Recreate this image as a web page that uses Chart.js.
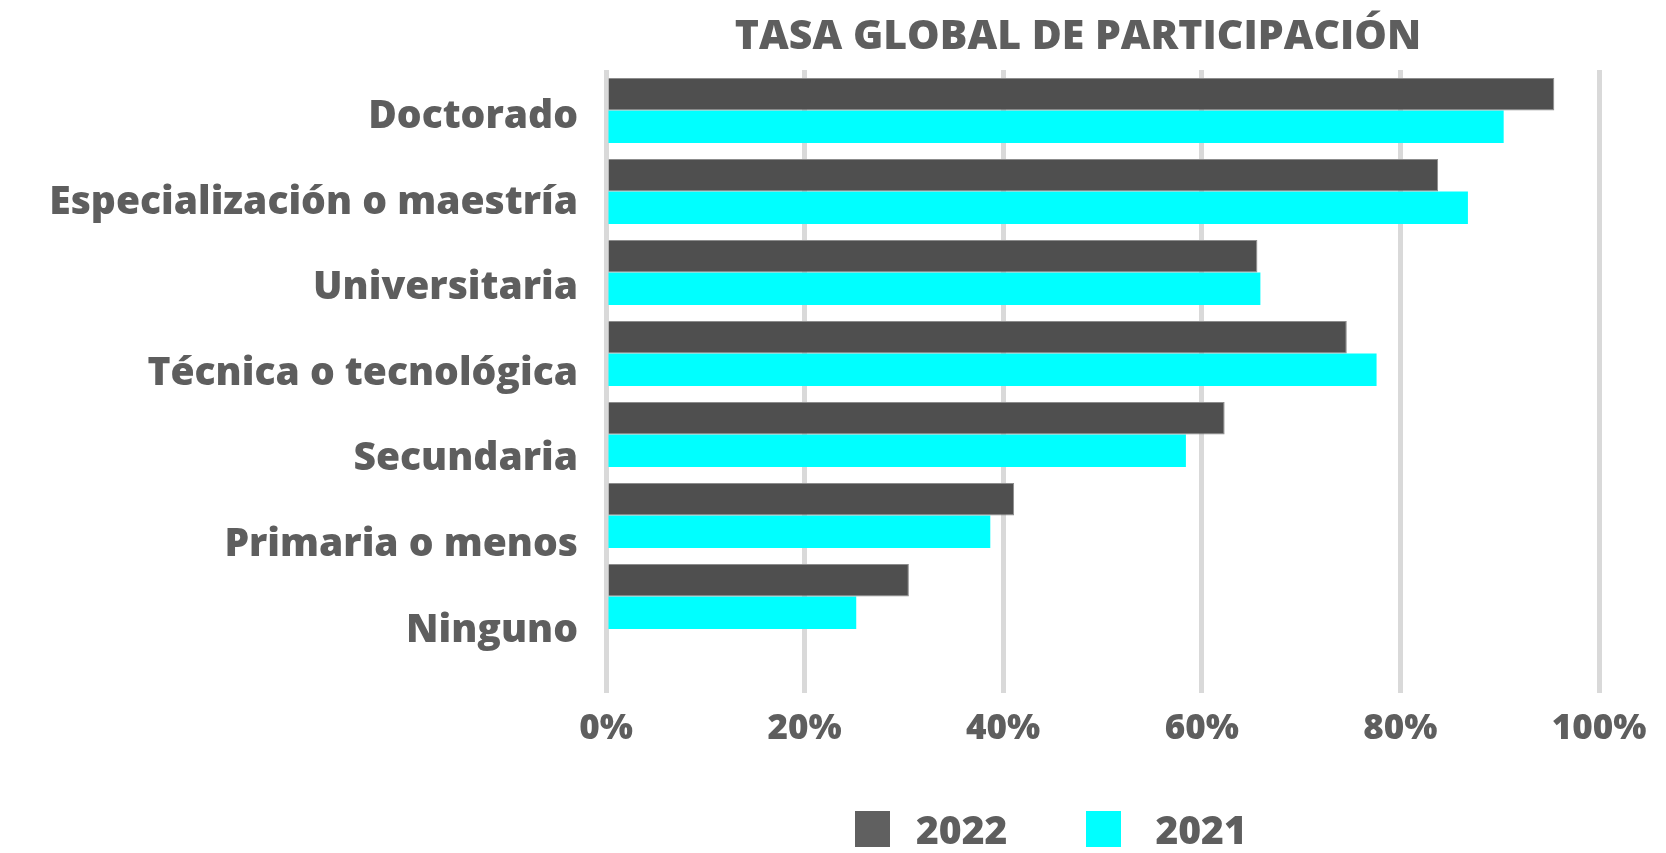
<!DOCTYPE html>
<html lang="es">
<head>
<meta charset="utf-8">
<script src="https://cdn.jsdelivr.net/npm/chart.js@4.4.0/dist/chart.umd.min.js"></script>
<title>Tasa global de participación</title>
<style>
    body { margin: 0; background: #fff; }
    #wrap { position: relative; width: 1666px; height: 853px; }
    #title {
        position: absolute; left: 1078px; top: 13px; transform: translateX(-50%);
        white-space: nowrap; line-height: 41px;
        font-family: 'Open Sans', sans-serif; font-weight: 800; font-size: 41px; color: #5e5e5e;
    }
    #legend {
        position: absolute; left: 855px; top: 811px;
        display: flex; align-items: center; line-height: 36px;
        font-family: 'Open Sans', sans-serif; font-weight: 800; font-size: 39px; color: #5e5e5e;
    }
    .lg-item { display: flex; align-items: center; margin-right: 79px; }
    .lg-box { width: 35px; height: 36px; margin-right: 26px; }
    .lg-item + .lg-item .lg-box { margin-right: 34px; }
</style>
</head>
<body>
<div id="wrap">
    <canvas id="chart"></canvas>
    <div id="title"></div>
    <div id="legend"></div>
</div>

<script>
    const categories = ['Doctorado', 'Especialización o maestría', 'Universitaria',
        'Técnica o tecnológica', 'Secundaria', 'Primaria o menos', 'Ninguno'];
    const values2022 = [95.5, 83.8, 65.6, 74.6, 62.3, 41.1, 30.5];
    const values2021 = [90.4, 86.8, 65.9, 77.6, 58.4, 38.7, 25.2];
    const seriesNames = ['2022', '2021'];
    const barColors = ['#4f4f4f', '#00ffff'];
    const legendColors = ['#606060', '#00ffff'];
    const titleText = 'TASA GLOBAL DE PARTICIPACIÓN';

    const textColor = '#5e5e5e';
    const fontName = "'Open Sans', sans-serif";

    // title and legend in html so they sit where the original has them
    document.getElementById('title').textContent = titleText;
    let legendEl = document.getElementById('legend');
    seriesNames.forEach((name, i) => {
        let item = document.createElement('div');
        item.className = 'lg-item';
        item.innerHTML = '<div class="lg-box" style="background:' + legendColors[i] + '"></div><span>' + name + '</span>';
        legendEl.appendChild(item);
    });

    let ctx = document.getElementById('chart').getContext('2d');
    let chart = new Chart(ctx, {
        type: 'bar',
        data: {
            labels: categories,
            datasets: [
                {
                    label: seriesNames[0],
                    data: values2022,
                    backgroundColor: barColors[0],
                    borderColor: '#8c8c8c',
                    borderWidth: 1,
                    categoryPercentage: 0.8,
                    barPercentage: 1.0
                },
                {
                    label: seriesNames[1],
                    data: values2021,
                    backgroundColor: barColors[1],
                    borderWidth: 0,
                    categoryPercentage: 0.8,
                    barPercentage: 1.0
                }
            ]
        },
        options: {
            indexAxis: 'y',
            responsive: true,
            maintainAspectRatio: false,
            animation: false,
            layout: {
                padding: { left: 0, right: 67, top: 70, bottom: 88 }
            },
            scales: {
                x: {
                    min: 0,
                    max: 100,
                    ticks: {
                        stepSize: 20,
                        color: textColor,
                        padding: 15,
                        font: { family: fontName, size: 35, weight: 800 },
                        callback: v => v + '%'
                    },
                    grid: {
                        color: '#d9d9d9',
                        lineWidth: 5,
                        drawTicks: true,
                        tickLength: 56
                    },
                    border: { display: false }
                },
                // bars sit on this one
                y: {
                    type: 'category',
                    display: false
                },
                // category names: in the original they are spaced a bit wider than the bars
                yl: {
                    type: 'linear',
                    position: 'left',
                    reverse: true,
                    offset: false,
                    bounds: 'data',
                    min: -0.546,
                    max: 6.075,
                    afterBuildTicks: scale => {
                        scale.ticks = categories.map((c, i) => ({ value: i }));
                    },
                    afterFit: scale => { scale.width = 606; },
                    ticks: {
                        autoSkip: false,
                        color: textColor,
                        padding: 20,
                        font: { family: fontName, size: 39, weight: 800 },
                        callback: v => categories[v]
                    },
                    grid: { display: false, offset: false },
                    border: { display: false }
                }
            },
            plugins: {
                legend: { display: false },
                tooltip: { enabled: false },
                title: { display: false }
            }
        }
    });
</script>
</body>
</html>
